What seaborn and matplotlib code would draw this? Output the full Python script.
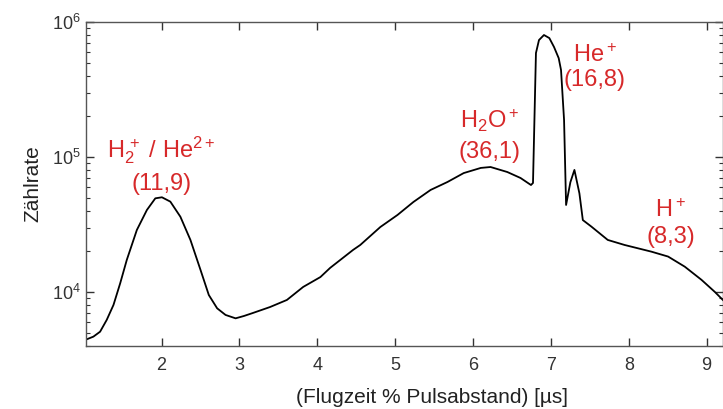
import pandas as pd
import matplotlib.pyplot as plt
import seaborn as sns

# Flugzeitspektrum
flugzeit = [1.018, 1.125, 1.211, 1.296, 1.383, 1.469, 1.554, 1.683, 1.812, 1.920,
            2.005, 2.113, 2.242, 2.371, 2.500, 2.607, 2.714, 2.822, 2.951, 3.058,
            3.170, 3.394, 3.610, 3.819, 4.040, 4.166, 4.460, 4.552, 4.810, 5.030,
            5.234, 5.455, 5.672, 5.880, 6.100, 6.225, 6.440, 6.610, 6.744, 6.770,
            6.808, 6.847, 6.911, 6.980, 7.040, 7.100, 7.130, 7.169, 7.195, 7.250,
            7.302, 7.366, 7.410, 7.520, 7.730, 7.946, 8.290, 8.505, 8.719, 8.934,
            9.106, 9.231]
zaehlrate = [4410, 4670, 5080, 6210, 8020, 11600, 17300, 28800, 40500, 49400,
             50300, 46700, 36100, 24300, 14600, 9500, 7570, 6760, 6380, 6640,
             6980, 7740, 8730, 10900, 12900, 15100, 20500, 22300, 30300, 37200,
             46400, 57000, 65300, 76000, 83000, 84300, 77400, 69900, 62000, 64200,
             589000, 735000, 801000, 760000, 653000, 540000, 441000, 188000, 44100, 65000,
             80200, 53800, 34100, 30500, 24300, 22300, 19900, 18300, 15400, 12300,
             10000, 8470]

# peak labels
labels = [r'H$_2^{\,+}$ / He$^{2+}$', r'H$_2$O$^+$', r'He$^+$', r'H$^+$']
masses = ['(11,9)', '(36,1)', '(16,8)', '(8,3)']
label_x = [2.0, 6.21, 7.56, 8.54]
label_y1 = [1.0e5, 1.64e5, 5.06e5, 3.6e4]
label_y2 = [5.7e4, 9.8e4, 3.36e5, 2.3e4]

df = pd.DataFrame({'Flugzeit': flugzeit, 'Zaehlrate': zaehlrate})

sns.set_style('ticks')
plt.rcParams['font.family'] = ['Liberation Sans', 'DejaVu Sans']
plt.rcParams['mathtext.fontset'] = 'custom'
plt.rcParams['mathtext.rm'] = 'Liberation Sans'
plt.rcParams['mathtext.it'] = 'Liberation Sans'
plt.rcParams['mathtext.default'] = 'regular'

fig = plt.figure(figsize=(7.23, 4.09), dpi=100)
ax = fig.add_axes([86 / 723, 1 - 346 / 409, 637 / 723, 324 / 409])

sns.lineplot(data=df, x='Flugzeit', y='Zaehlrate', color='black', linewidth=1.3, ax=ax)
ax.set_yscale('log')
ax.set_xlim(1.03, 9.21)
ax.set_ylim(3980, 1e6)
ax.set_xticks(range(2, 10))

red = '#d7292a'
for t1, t2, x, y1, y2 in zip(labels, masses, label_x, label_y1, label_y2):
    ax.text(x, y1, t1, color=red, fontsize=17, ha='center', va='baseline')
    ax.text(x, y2, t2, color=red, fontsize=17, ha='center', va='baseline')

# the original plot was cropped on the right, so the x label sits off-centre
ax.set_xlabel('(Flugzeit % Pulsabstand) [µs]', fontsize=15, color='#222222')
ax.xaxis.set_label_coords(0.543, -0.13)
ax.set_ylabel('Zählrate', fontsize=15, color='#222222', labelpad=7)

ax.tick_params(which='both', direction='in', top=True, right=True, colors='#333333',
               labelsize=13)
ax.tick_params(axis='x', pad=8)
ax.tick_params(which='major', length=6, width=1)
ax.tick_params(which='minor', length=3, width=0.8)
ax.tick_params(axis='x', which='minor', bottom=False, top=False)
for s in ax.spines.values():
    s.set_color('#555555')
    s.set_linewidth(1)

plt.savefig('out.png', dpi=100)
